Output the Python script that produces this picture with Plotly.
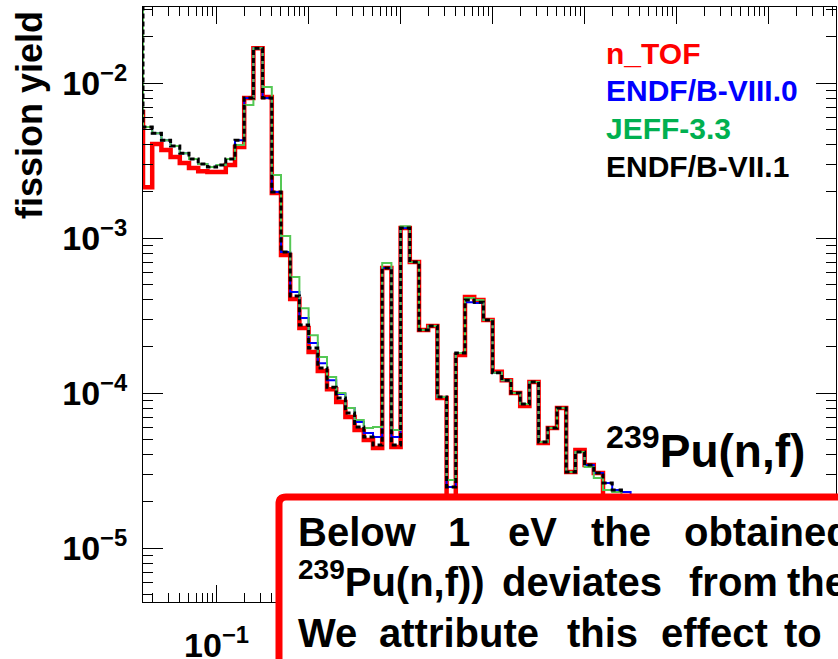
import numpy as np
import plotly.graph_objects as go

# ---------------- data (fission yield per bin, 10 bins / decade) ----------------
first_edge_log10 = -1.9      # left edge of first bin [log10(E/eV)]
bins_per_decade = 10

ntof = [0.0065, 0.00213, 0.00404, 0.00370, 0.00334, 0.00305, 0.00283, 0.00270, 0.00267, 0.00267,
        0.00296, 0.00387, 0.00800, 0.0168, 0.00812, 0.00195, 7.77e-4, 4.04e-4, 2.63e-4, 1.84e-4,
        1.39e-4, 1.06e-4, 8.75e-5, 7.00e-5, 5.77e-5, 4.97e-5, 4.42e-5, 6.40e-4, 4.49e-5, 1.16e-3,
        7.00e-4, 2.55e-4, 2.71e-4, 9.29e-5, 1.76e-5, 1.76e-4, 4.16e-4, 3.98e-4, 2.96e-4, 1.37e-4,
        1.21e-4, 1.00e-4, 8.24e-5, 1.18e-4, 4.76e-5, 5.95e-5, 8.00e-5, 3.09e-5, 4.29e-5, 3.43e-5,
        3.05e-5, 2.04e-5, 1.8e-5, 1.76e-5, 1.6e-5, 1.5e-5]

endf8 = [0.05, 0.0052, 0.00475, 0.00428, 0.00393, 0.00353, 0.00324, 0.00300, 0.00287, 0.00296,
         0.00324, 0.00428, 0.00800, 0.0168, 0.00800, 0.00198, 8.13e-4, 4.48e-4, 3.05e-4, 2.10e-4,
         1.56e-4, 1.21e-4, 9.86e-5, 8.00e-5, 6.50e-5, 5.52e-5, 5.20e-5, 6.40e-4, 5.20e-5, 1.16e-3,
         7.00e-4, 2.55e-4, 2.71e-4, 9.42e-5, 2.48e-5, 1.81e-4, 3.86e-4, 3.81e-4, 2.96e-4, 1.35e-4,
         1.21e-4, 1.00e-4, 8.49e-5, 1.18e-4, 4.83e-5, 5.95e-5, 8.00e-5, 3.09e-5, 4.16e-5, 3.43e-5,
         3.05e-5, 2.63e-5, 2.37e-5, 2.30e-5, 1.76e-5, 1.6e-5]

jeff33 = [0.05, 0.0052, 0.00475, 0.00428, 0.00393, 0.00353, 0.00324, 0.00300, 0.00287, 0.00296,
          0.00324, 0.00398, 0.00721, 0.0168, 0.00942, 0.00255, 1.03e-3, 5.60e-4, 3.53e-4, 2.36e-4,
          1.71e-4, 1.27e-4, 1.00e-4, 8.00e-5, 6.70e-5, 5.95e-5, 6.04e-5, 6.90e-4, 5.77e-5, 1.19e-3,
          7.00e-4, 2.55e-4, 2.71e-4, 9.42e-5, 2.75e-5, 1.81e-4, 4.10e-4, 3.98e-4, 2.96e-4, 1.35e-4,
          1.21e-4, 1.00e-4, 8.49e-5, 1.18e-4, 4.83e-5, 5.95e-5, 8.00e-5, 3.09e-5, 4.16e-5, 3.33e-5,
          2.83e-5, 2.37e-5, 2.30e-5, 2.04e-5, 1.76e-5, 1.6e-5]

endf71 = [0.05, 0.0052, 0.00475, 0.00428, 0.00393, 0.00353, 0.00324, 0.00300, 0.00287, 0.00296,
          0.00324, 0.00428, 0.00800, 0.0168, 0.00800, 0.00198, 8.13e-4, 4.23e-4, 2.75e-4, 1.95e-4,
          1.45e-4, 1.09e-4, 9.29e-5, 7.43e-5, 6.04e-5, 5.20e-5, 4.62e-5, 6.40e-4, 4.62e-5, 1.16e-3,
          7.00e-4, 2.55e-4, 2.71e-4, 9.42e-5, 2.48e-5, 1.81e-4, 3.98e-4, 3.86e-4, 2.96e-4, 1.35e-4,
          1.21e-4, 1.00e-4, 8.49e-5, 1.18e-4, 4.83e-5, 5.95e-5, 8.00e-5, 3.09e-5, 4.16e-5, 3.43e-5,
          3.05e-5, 2.63e-5, 2.37e-5, 2.04e-5, 1.76e-5, 1.6e-5]

series_names = ["n_TOF", "ENDF/B-VIII.0", "JEFF-3.3", "ENDF/B-VII.1"]
# only the 10^-1 label is visible; the others sit under the text box
x_major = [1e-1, 1e0, 1e1, 1e2, 1e3, 1e4, 1e5]
x_major_text = ["10<sup>−1</sup>", "", "", "", "", "", ""]
y_major = [1e-5, 1e-4, 1e-3, 1e-2]
y_major_text = ["10<sup>−5</sup>", "10<sup>−4</sup>", "10<sup>−3</sup>", "10<sup>−2</sup>"]
y_title = "fission yield"
reaction_label = "<sup>239</sup>Pu(n,f)"
box_lines = [["Below", "1", "eV", "the", "obtained"],
             ["<sup>239</sup>Pu(n,f))", "deviates", "from", "the"],
             ["We", "attribute", "this", "effect", "to"]]

# ---------------- geometry ----------------
W, H = 838, 659
L, R, T, B = 143, 2, 7, 57
PW, PH = W - L - R, H - T - B
FONT = "Arial, Liberation Sans, sans-serif"


def fx(px):
    return (px - L) / PW


def fy(py):
    return 1 - (py - T) / PH


n = len(ntof)
edges = 10 ** (first_edge_log10 + np.arange(n + 1) / bins_per_decade)


def step(vals):
    return list(edges), list(vals) + [vals[-1]]


fig = go.Figure()
styles = [
    (ntof, dict(color="#ff0000", width=4.5)),
    (endf8, dict(color="#0000ff", width=2)),
    (jeff33, dict(color="#55c855", width=2)),
    (endf71, dict(color="#000000", width=3, dash="5px,3px")),
]
for name, (vals, line) in zip(series_names, styles):
    xs, ys = step(vals)
    fig.add_trace(go.Scatter(x=xs, y=ys, mode="lines", line_shape="hv",
                             line=line, name=name, showlegend=False, hoverinfo="skip"))

minor_x = [d * 10.0 ** k for k in range(-2, 6) for d in range(2, 10)]
minor_y = [d * 10.0 ** k for k in range(-6, -1) for d in range(2, 10)]

tickfont = dict(family=FONT, size=34, color="black", weight="bold")

fig.update_xaxes(type="log", range=[-1.8, -1.8 + PW / 92.0],
                 showline=True, linecolor="black", linewidth=1, mirror="ticks",
                 showgrid=False, zeroline=False,
                 ticks="inside", ticklen=17, tickwidth=1, tickcolor="black",
                 tickvals=x_major, ticktext=x_major_text, tickfont=tickfont,
                 ticklabelstandoff=13,
                 minor=dict(ticks="inside", ticklen=9, tickwidth=1, tickcolor="black",
                            tickvals=minor_x, showgrid=False))
fig.update_yaxes(type="log", range=[-5.348, -5.348 + PH / 155.0],
                 showline=True, linecolor="black", linewidth=1, mirror="ticks",
                 showgrid=False, zeroline=False,
                 ticks="inside", ticklen=20, tickwidth=1, tickcolor="black",
                 tickvals=y_major, ticktext=y_major_text, tickfont=tickfont,
                 ticklabelstandoff=8,
                 minor=dict(ticks="inside", ticklen=10, tickwidth=1, tickcolor="black",
                            tickvals=minor_y, showgrid=False))

annotations = []
# y title
annotations.append(dict(xref="paper", yref="paper", x=fx(29), y=fy(115), text=y_title,
                        textangle=-90, showarrow=False, xanchor="center", yanchor="middle",
                        font=dict(family=FONT, size=36, color="black", weight="bold")))
# legend-like labels
leg_colors = ["#ff0000", "#0000ff", "#00b050", "#000000"]
leg_base = [65, 102, 140, 178]
for name, col, base in zip(series_names, leg_colors, leg_base):
    annotations.append(dict(xref="paper", yref="paper", x=fx(605), y=fy(base + 0.21 * 30),
                            text=name, showarrow=False, xanchor="left", yanchor="bottom",
                            borderpad=0,
                            font=dict(family=FONT, size=30, color=col, weight="bold")))
# reaction label
annotations.append(dict(xref="paper", yref="paper", x=fx(605), y=fy(468 + 0.21 * 46),
                        text=reaction_label, showarrow=False, xanchor="left", yanchor="bottom",
                        borderpad=0,
                        font=dict(family=FONT, size=46, color="black", weight="bold")))
# text in the red box (justified words)
word_x = [[297, 447, 507, 590, 683],
          [297, 501, 688, 786],
          [297, 378, 566, 660, 783]]
line_base = [547, 597, 648]
for words, xs, base in zip(box_lines, word_x, line_base):
    for w, x in zip(words, xs):
        annotations.append(dict(xref="paper", yref="paper", x=fx(x), y=fy(base + 0.21 * 40),
                                text=w, showarrow=False, xanchor="left", yanchor="bottom",
                                borderpad=0,
                                font=dict(family=FONT, size=40, color="black", weight="bold")))

# red box with rounded top-left corner
bx0, by0, bx1, by1, rr = 279, 497, 900, 720, 7
path = (f"M {fx(bx0)},{fy(by1)} L {fx(bx0)},{fy(by0 + rr)} "
        f"Q {fx(bx0)},{fy(by0)} {fx(bx0 + rr)},{fy(by0)} "
        f"L {fx(bx1)},{fy(by0)} L {fx(bx1)},{fy(by1)} Z")
shapes = [dict(type="path", xref="paper", yref="paper", path=path,
               line=dict(color="#ff0000", width=7), fillcolor="white", layer="above")]

fig.update_layout(width=W, height=H, margin=dict(l=L, r=R, t=T, b=B, autoexpand=False),
                  paper_bgcolor="white", plot_bgcolor="white", hovermode=False,
                  annotations=annotations, shapes=shapes, showlegend=False)

fig.write_html("out.html", config={"displayModeBar": False},
               post_script="document.body.style.margin='0';document.body.style.overflow='hidden';")
